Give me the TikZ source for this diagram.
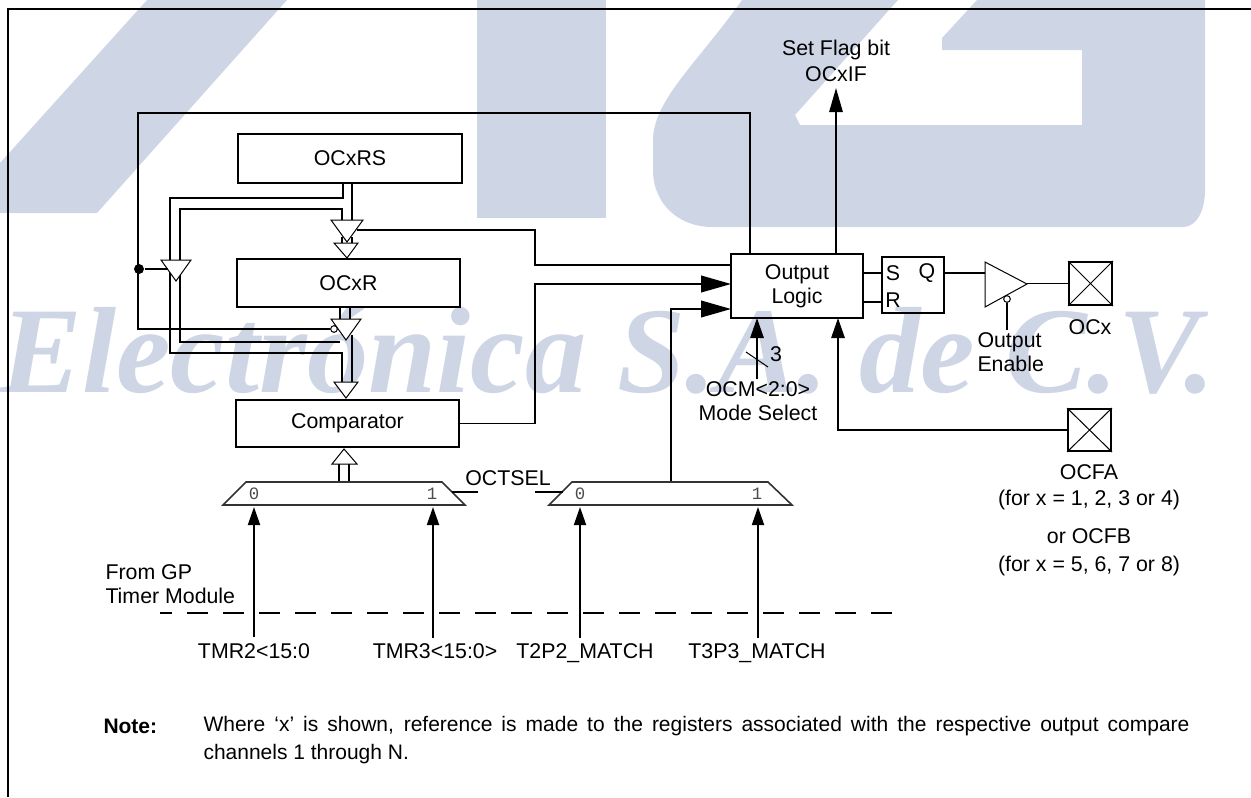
\documentclass[tikz,border=0pt]{standalone}
\usepackage{fontspec}
\setmainfont{Liberation Sans}
\setmonofont{Liberation Mono}
\newfontfamily\logofont{Liberation Serif}
\usetikzlibrary{arrows.meta}
\definecolor{logoblue}{RGB}{206,213,229}
\tikzset{every picture/.style={line width=0.75pt}}
\tikzset{
  wire/.style={line width=1.4pt},
  thinwire/.style={line width=0.75pt},
  boxnode/.style={draw,line width=1.5pt,inner sep=0pt,align=center},
  txt/.style={inner sep=0pt,align=center},
  portnum/.style={inner sep=0pt,text=black!70,font=\fontsize{13}{15}\ttfamily},
  muxshape/.style={draw=black!80,line width=1.2pt,fill=white},
  hollow/.style={draw,thinwire,fill=white},
  tipbig/.style={-{Triangle[length=22.5pt,width=12.5pt]}},
  tipup/.style={-{Triangle[length=15pt,width=10pt]}},
  tiptop/.style={-{Triangle[length=18pt,width=10pt]}},
  tipmux/.style={-{Triangle[length=13.5pt,width=9pt]}},
  every node/.append style={font=\fontsize{16}{17.25}\selectfont}
}

\begin{document}
\begin{tikzpicture}[x=0.75pt,y=0.75pt,yscale=-1,xscale=1]
\useasboundingbox (0,0) rectangle (1251,797);

%Shape: logo behind the drawing
\begin{scope}
\clip (0,0) rectangle (1251,797);
\fill [logoblue] (147,0) -- (287,0) -- (97,213) -- (0,213) -- (0,163) -- cycle ;
\fill [logoblue] (477,0) rectangle (606,218);
\fill [logoblue] (742,0) .. controls (700,60) and (653,100) .. (653,140) -- (653,170) .. controls (653,205) and (680,227) .. (712,227) -- (1183,227) .. controls (1197,227) and (1205,210) .. (1205,190) -- (1205,0) -- (977,0) -- (942,38) -- (942,50) -- (1082,50) -- (1082,125) -- (800,125) -- (795,115) -- (898,0) -- cycle ;
\node (logotext) [anchor=base west,inner sep=0pt,text=logoblue,font=\logofont\bfseries\itshape\fontsize{92}{92}\selectfont] at (0,392) {Electrónica S.A. de C.V.};
\end{scope}

%Frame
\coordinate (framebl) at (8,797);
\coordinate (frametl) at (8,9);
\coordinate (frametr) at (1251,9);
\draw [wire] (framebl) -- (frametl) -- (frametr) ;

%Blocks
\node (ocxrs) [boxnode,minimum width=168pt,minimum height=36.75pt] at (350,158.5) {OCxRS};
\node (ocxr) [boxnode,minimum width=167.25pt,minimum height=36pt] at (348.5,283) {OCxR};
\node (compar) [boxnode,minimum width=167.25pt,minimum height=35.25pt] at (347.5,423.5) {Comparator};
\node (outlogic) [boxnode,minimum width=99pt,minimum height=48pt] at (797,286) {Output\\[0.5pt]Logic};
\node (srbox) [boxnode,minimum width=46.5pt,minimum height=42pt] at (913,285) {};
\node (ocxpin) [boxnode,minimum width=32.25pt,minimum height=32.25pt] at (1090.5,283.5) {};
\node (ocfapin) [boxnode,minimum width=32.25pt,minimum height=31.5pt] at (1089.5,430) {};

%Junctions
\coordinate (rsleft) at (343,183);
\coordinate (rsright) at (352,183);
\coordinate (busouter) at (170,198);
\coordinate (businner) at (180,209);
\coordinate (outerlow) at (170,353);
\coordinate (innerlow) at (180,342);
\coordinate (hdtopa) at (342,220);
\coordinate (hdtopb) at (352,220);
\coordinate (hdlowa) at (342,382);
\coordinate (hdlowb) at (352,382);
\coordinate (hdlowmid) at (352,335);
\coordinate (innerend) at (340,342);
\coordinate (fbin) at (750,254);
\coordinate (fbcorner) at (138,113);
\coordinate (enable) at (357,230);
\coordinate (enableup) at (535,265);
\coordinate (enablein) at (731,265);
\coordinate (comparout) at (535,284);
\coordinate (comparin) at (731,284);
\coordinate (muxout) at (671,482);
\coordinate (muxin) at (731,309);
\coordinate (flagfrom) at (836,254);
\coordinate (flagtip) at (836,88);
\coordinate (ocmfrom) at (757,379);
\coordinate (ocmtip) at (757,318);
\coordinate (ocfain) at (838,318);
\coordinate (bufin) at (985,273);
\coordinate (bufout) at (1027,283.5);

%Wires of the data buses
\draw [wire] (rsleft) -- (343,198) -| (busouter) -- (outerlow) -| (hdlowa) ;
\draw [wire] (hdtopa) |- (businner) -- (innerlow) -- (innerend) ;
\draw [wire] (rsright) -- (hdtopb) ;
\draw [wire] (hdlowmid) -- (hdlowb) ;
\draw [wire] (340,307) -- (340,319) ;
\draw [wire] (350,307) -- (350,319) ;
\draw [wire] (342,237) -- (342,244) ;
\draw [wire] (352,237) -- (352,244) ;
\draw [wire] (339,464) -- (339,482) ;
\draw [wire] (349,464) -- (349,482) ;

%Hollow heads
\path [hollow] (334,243) -- (358,243) -- (347,258) -- cycle ;
\path [hollow] (334,382) -- (358,382) -- (346,398) -- cycle ;
\path [hollow] (332,464) -- (357,464) -- (344,449) -- cycle ;

%Tri-state gates
\path [hollow] (331,220) -- (363,220) -- (347,242) -- cycle ;
\path [hollow] (161,260) -- (191,260) -- (176,281) -- cycle ;
\path [hollow] (331,319) -- (361,319) -- (346,340) -- cycle ;
\node (bubgate) [circle,draw,thinwire,fill=white,inner sep=0pt,minimum size=5pt] at (334,329) {};
\node (fbdot) [circle,fill,inner sep=0pt,minimum size=7.5pt] at (139,269) {};

%Control wires
\draw [wire] (fbin) |- (fbcorner) |- (bubgate) ;
\draw [wire] (fbdot) -- (168,269) ;
\draw [wire] (enable) -| (enableup) -- (enablein) ;
\draw [wire,tipbig] (compar.east) -| (comparout) -- (comparin) ;
\draw [wire,tipbig] (muxout) |- (muxin) ;
\draw [wire,tiptop] (flagfrom) -- (flagtip) ;
\draw [wire,tipup] (ocmfrom) -- (ocmtip) ;
\draw [thinwire] (746,352) -- (768,367) ;
\draw [wire,tipup] (ocfapin.west) -| (ocfain) ;

%Output stage
\draw [wire] (outlogic.east |- 0,273) -- (srbox.west |- 0,273) ;
\draw [wire] (outlogic.east |- 0,302) -- (srbox.west |- 0,302) ;
\draw [wire] (srbox.east |- bufin) -- (bufin) ;
\draw [wire] (bufout) -- (ocxpin.west) ;
\path [hollow] (985,262) -- (985,307) -- (1027,284) -- cycle ;
\node (bubbuf) [circle,draw,thinwire,fill=white,inner sep=0pt,minimum size=5pt] at (1007,299) {};
\coordinate (oebelow) at (1007,330);
\draw [wire] (bubbuf) -- (oebelow) ;
\draw [thinwire] (ocxpin.north west) -- (ocxpin.south east) (ocxpin.north east) -- (ocxpin.south west) ;
\draw [thinwire] (ocfapin.north west) -- (ocfapin.south east) (ocfapin.north east) -- (ocfapin.south west) ;

%Shape: the two selectors
\path [muxshape] (223,505) -- (246,482) -- (442,482) -- (465,505) -- cycle ;
\path [muxshape] (549,505) -- (572,482) -- (768,482) -- (792,505) -- cycle ;

%Mux inputs and select
\coordinate (tmrtwo) at (254,637);
\coordinate (tmrthree) at (433,638);
\coordinate (ttwo) at (580,638);
\coordinate (tthree) at (758,638);
\draw [wire,tipmux] (tmrtwo) -- (254,507) ;
\draw [wire,tipmux] (tmrthree) -- (433,507) ;
\draw [wire,tipmux] (ttwo) -- (580,507) ;
\draw [wire,tipmux] (tthree) -- (758,507) ;
\draw [wire] (452,492) -- (478,492) ;
\draw [wire] (535,492) -- (563,492) ;

%Module boundary
\coordinate (dashfrom) at (160,613);
\coordinate (dashto) at (895,613);
\draw [wire,dash pattern=on 16pt off 11pt,dash phase=7pt] (dashfrom) -- (dashto) ;

% Text Node
\node (lbzeroa) [portnum] at (254,494) {0};
\node (lbonea) [portnum] at (432,494) {1};
\node (lbzerob) [portnum] at (580,494) {0};
\node (lboneb) [portnum] at (757,494) {1};
\node (lbsel) [txt] at (508,478) {OCTSEL};
\node (lbs) [txt] at (893,273) {S};
\node (lbq) [txt] at (927,273) {Q};
\node (lbr) [txt] at (893,300) {R};
\node (lbflag) [txt] at (836,61) {Set Flag bit\\[2pt]OCxIF};
\node (lbthree) [txt] at (776,354) {3};
\node (lbocm) [txt] at (758,401) {OCM<2:0>\\[1pt]Mode Select};
\node (lboe) [txt,align=left,anchor=west] at (977,352) {Output\\[1pt]Enable};
\node (lbocx) [txt] at (1090,327) {OCx};
\node (lbocfa) [txt] at (1089,487.5) {OCFA\\[2pt](for x = 1, 2, 3 or 4)};
\node (lbocfb) [txt] at (1089,552) {or OCFB\\[3.5pt](for x = 5, 6, 7 or 8)};
\node (lbgp) [txt,align=left,anchor=west] at (105,584) {From GP\\[1pt]Timer Module};
\node (lbtmra) [txt,anchor=base] at (254,658) {TMR2<15:0};
\node (lbtmrb) [txt,anchor=base] at (435,658) {TMR3<15:0>};
\node (lbtta) [txt,anchor=base] at (585,658) {T2P2\_MATCH};
\node (lbttb) [txt,anchor=base] at (757,658) {T3P3\_MATCH};
\node (lbnote) [inner sep=0pt,anchor=base west,font=\fontsize{15.75}{21}\selectfont\bfseries] at (103,733) {Note:};
\node (notetext) [inner sep=0pt,anchor=north west,align=left,font=\fontsize{15.75}{21}\selectfont] at (203,716) {\hbox to 739.5pt{Where ‘x’ is shown, reference is made to the registers associated with the respective output compare}\\channels 1 through N.};

\end{tikzpicture}
\end{document}
